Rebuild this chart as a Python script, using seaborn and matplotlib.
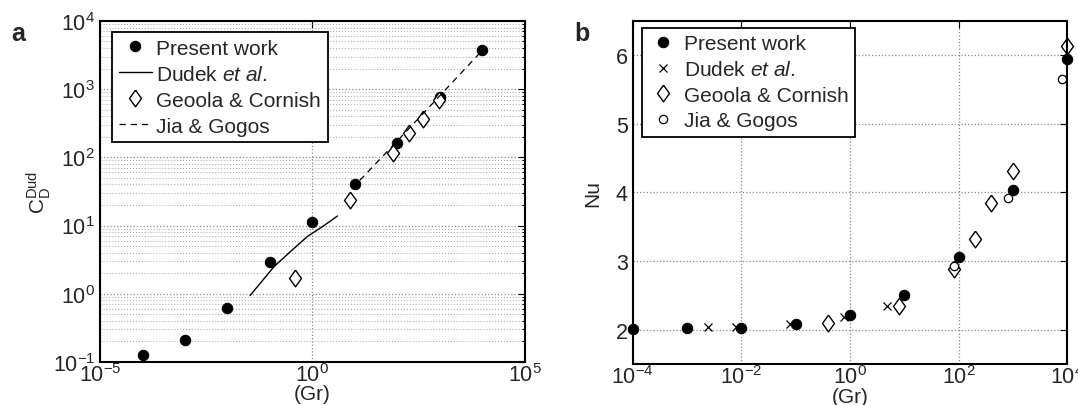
import numpy as np
import pandas as pd
import matplotlib
matplotlib.use("Agg")
import matplotlib.pyplot as plt
import seaborn as sns
from matplotlib.ticker import LogLocator, FixedLocator, NullLocator, LogFormatterMathtext, NullFormatter

# ---------------- data (panel a) ----------------
a_present_gr = [1e-4, 1e-3, 1e-2, 1e-1, 1.0, 10.0, 100.0, 1000.0, 1e4]
a_present_cd = [0.126, 0.21, 0.62, 2.95, 11.1, 41.0, 164.0, 760.0, 3700.0]
a_dudek_gr = [0.034, 0.125, 0.31, 0.76, 1.88, 3.9]
a_dudek_cd = [0.94, 2.5, 4.2, 6.9, 10.0, 13.8]
a_geoola_gr = [0.38, 7.55, 78.0, 189.0, 400.0, 980.0]
a_geoola_cd = [1.71, 23.5, 115.0, 224.0, 365.0, 690.0]
a_jia_gr = [8.6, 100.0, 1000.0, 1e4]
a_jia_cd = [35.0, 174.0, 800.0, 3700.0]

# ---------------- data (panel b) ----------------
b_present_gr = [1e-4, 1e-3, 1e-2, 1e-1, 1.0, 10.0, 100.0, 1000.0, 1e4]
b_present_nu = [2.01, 2.02, 2.02, 2.08, 2.21, 2.50, 3.06, 4.04, 5.94]
b_dudek_gr = [0.0024, 0.0079, 0.078, 0.76, 4.8]
b_dudek_nu = [2.035, 2.035, 2.08, 2.18, 2.34]
b_geoola_gr = [0.40, 8.1, 83.0, 204.0, 400.0, 1000.0, 1e4]
b_geoola_nu = [2.10, 2.34, 2.88, 3.32, 3.85, 4.32, 6.13]
b_jia_gr = [82.0, 800.0, 8000.0]
b_jia_nu = [2.93, 3.92, 5.66]

sns.set_style("white")
plt.rcParams["font.family"] = ["Liberation Sans", "DejaVu Sans"]
plt.rcParams["mathtext.fontset"] = "custom"
plt.rcParams["mathtext.rm"] = "Liberation Sans"
plt.rcParams["mathtext.it"] = "Liberation Sans:italic"
plt.rcParams["mathtext.bf"] = "Liberation Sans:bold"

FS_TICK = 15.5
FS_LEG = 15
FS_LAB = 15
diamond = [(0, 1), (0.72, 0), (0, -1), (-0.72, 0), (0, 1)]

fig = plt.figure(figsize=(10.78, 4.06), dpi=100)
ax1 = fig.add_axes([0.0928, 0.106, 0.394, 0.840])
ax2 = fig.add_axes([0.587, 0.101, 0.403, 0.845])


def pts(ax, x, y, label, **kw):
    sns.lineplot(x=x, y=y, ax=ax, label=label, linestyle="", estimator=None,
                 sort=False, color="black", clip_on=False, **kw)


# ---------------- panel a ----------------
ax1.set_xscale("log")
ax1.set_yscale("log")
pts(ax1, a_present_gr, a_present_cd, "Present work", marker="o", markersize=7.5,
    markerfacecolor="black", markeredgecolor="black")
sns.lineplot(x=a_dudek_gr, y=a_dudek_cd, ax=ax1, color="black", linewidth=1.0,
             label=r"Dudek $\mathit{et\ al}$.", estimator=None)
pts(ax1, a_geoola_gr, a_geoola_cd, "Geoola & Cornish", marker=diamond, markersize=12,
    markerfacecolor="white", markeredgecolor="black", markeredgewidth=1.0)
sns.lineplot(x=a_jia_gr, y=a_jia_cd, ax=ax1, color="black", linewidth=0.9,
             linestyle=(0, (5, 4)), label="Jia & Gogos", estimator=None)

ax1.set_xlim(1e-5, 1e5)
ax1.set_ylim(1e-1, 1e4)
ax1.xaxis.set_major_locator(FixedLocator([1e-5, 1e0, 1e5]))
ax1.xaxis.set_minor_locator(NullLocator())
ax1.xaxis.set_major_formatter(LogFormatterMathtext())
ax1.yaxis.set_major_locator(LogLocator(base=10, numticks=10))
ax1.yaxis.set_minor_locator(LogLocator(base=10, subs=np.arange(2, 10), numticks=20))
ax1.yaxis.set_minor_formatter(NullFormatter())
ax1.grid(True, which="major", axis="both", linestyle=":", color="#8a8a8a", linewidth=0.9)
ax1.grid(True, which="minor", axis="y", linestyle=":", color="#b0b0b0", linewidth=0.8)
ax1.set_xlabel("(Gr)", fontsize=FS_LAB)
ax1.xaxis.set_label_coords(0.5, -0.066)
ax1.set_ylabel(r"$\mathregular{C_D^{Dud}}$", fontsize=FS_LAB, labelpad=0)
ax1.text(-0.21, 1.0, "a", transform=ax1.transAxes, fontsize=18, fontweight="bold",
         ha="left", va="top")
leg1 = ax1.legend(loc="upper left", bbox_to_anchor=(0.028, 0.968), borderaxespad=0,
                  fontsize=FS_LEG, frameon=True, fancybox=False, edgecolor="black",
                  framealpha=1, handlelength=1.6, handletextpad=0.2, labelspacing=0.34,
                  borderpad=0.32)

# ---------------- panel b ----------------
ax2.set_xscale("log")
pts(ax2, b_present_gr, b_present_nu, "Present work", marker="o", markersize=7.5,
    markerfacecolor="black", markeredgecolor="black")
pts(ax2, b_dudek_gr, b_dudek_nu, r"Dudek $\mathit{et\ al}$.", marker="x", markersize=6,
    markeredgewidth=0.9, markeredgecolor="black")
pts(ax2, b_geoola_gr, b_geoola_nu, "Geoola & Cornish", marker=diamond, markersize=12,
    markerfacecolor="white", markeredgecolor="black", markeredgewidth=1.0)
pts(ax2, b_jia_gr, b_jia_nu, "Jia & Gogos", marker="o", markersize=6,
    markerfacecolor="white", markeredgecolor="black", markeredgewidth=0.9)

ax2.set_xlim(1e-4, 1e4)
ax2.set_ylim(1.5, 6.5)
ax2.xaxis.set_major_locator(FixedLocator([1e-4, 1e-2, 1e0, 1e2, 1e4]))
ax2.xaxis.set_minor_locator(NullLocator())
ax2.xaxis.set_major_formatter(LogFormatterMathtext())
ax2.yaxis.set_major_locator(FixedLocator([2, 3, 4, 5, 6]))
ax2.grid(True, which="major", linestyle=":", color="#8a8a8a", linewidth=0.9)
ax2.set_xlabel("(Gr)", fontsize=FS_LAB)
ax2.xaxis.set_label_coords(0.5, -0.068)
ax2.set_ylabel("Nu", fontsize=FS_LAB, labelpad=10)
ax2.text(-0.135, 1.0, "b", transform=ax2.transAxes, fontsize=18, fontweight="bold",
         ha="left", va="top")
leg2 = ax2.legend(loc="upper left", bbox_to_anchor=(0.021, 0.98), borderaxespad=0,
                  fontsize=FS_LEG, frameon=True, fancybox=False, edgecolor="black",
                  framealpha=1, handlelength=1.4, handletextpad=0.3, labelspacing=0.32,
                  borderpad=0.32)

for ax, leg in ((ax1, leg1), (ax2, leg2)):
    leg.get_frame().set_linewidth(1.3)
    for s in ax.spines.values():
        s.set_visible(True)
        s.set_color("black")
        s.set_linewidth(1.5)
    ax.tick_params(which="both", direction="in", top=True, right=True, labelsize=FS_TICK,
                   color="black", width=0.8)
    ax.tick_params(which="major", length=5)
    ax.tick_params(which="minor", length=2.5)
    ax.tick_params(axis="x", which="major", pad=1)
    ax.set_axisbelow(True)

fig.savefig("out.png", dpi=100)
